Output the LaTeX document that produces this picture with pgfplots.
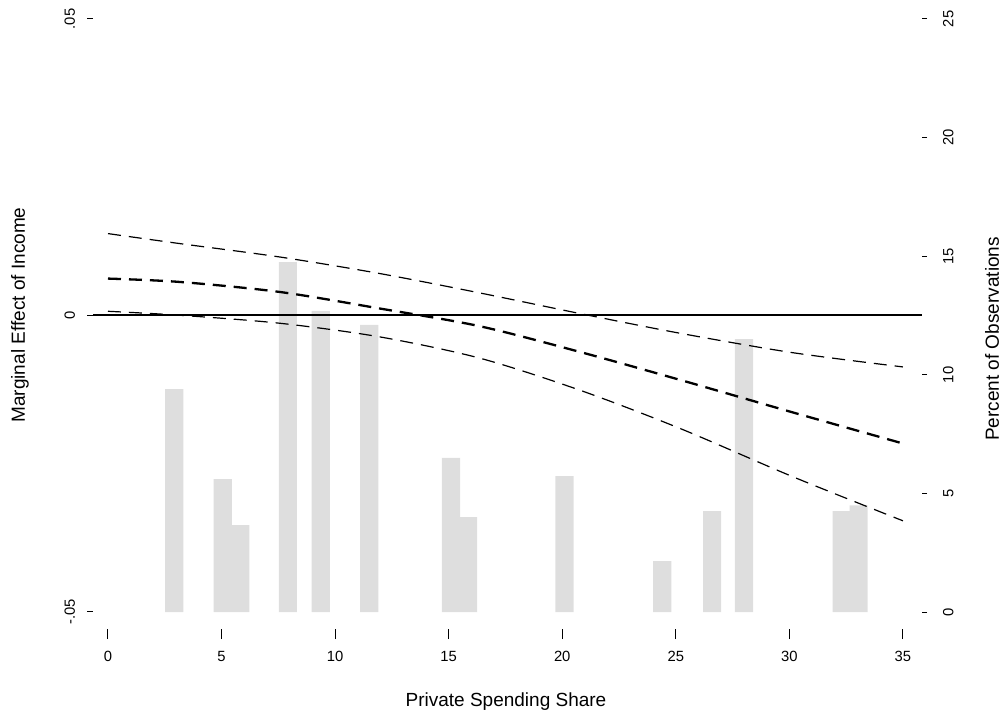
\documentclass[border=0pt]{standalone}
\usepackage{pgfplots}
\pgfplotsset{compat=1.18}
\usepackage{fontspec}
\setmainfont{Liberation Sans}
\definecolor{bargray}{RGB}{222,222,222}
\pgfplotstableread{
x h
2.92 9.4
5.05 5.6
5.83 3.66
7.92 14.75
9.37 12.7
11.5 12.1
15.1 6.5
15.85 4.0
20.1 5.73
24.4 2.15
26.6 4.25
28.0 11.5
32.3 4.25
33.05 4.5
}\bars
\begin{document}
\begin{tikzpicture}
\useasboundingbox (0,0) rectangle (502.5pt,359.5pt);
\pgfplotsset{
  common/.style={
    scale only axis, width=414.5pt, height=305pt,
    at={(46.5pt,45pt)}, anchor=south west,
    xmin=-0.66, xmax=35.84,
    clip=false,
    axis line style={draw=none},
    tick align=outside,
    scaled ticks=false,
    tick style={black, line width=0.5pt},
    ticklabel style={font=\fontsize{7.4}{9}\selectfont},
  }
}
% right axis with histogram
\begin{axis}[common,
  hide x axis,
  axis y line*=right,
  ymin=-0.7167, ymax=25,
  major tick length=2.5pt,
  ytick={0,5,10,15,20,25},
  yticklabels={0,5,10,15,20,25},
  yticklabel style={rotate=90, anchor=north},
  yticklabel shift=4.5pt,
]
\addplot[ybar, bar width=0.8, bar shift=0pt, fill=bargray, draw=none] table[x=x,y=h] {\bars};
\end{axis}
% x axis ticks
\begin{axis}[common,
  hide y axis,
  axis x line*=bottom,
  ymin=-0.05295, ymax=0.05,
  major tick length=5pt,
  xtick={0,5,10,15,20,25,30,35},
  xticklabels={0,5,10,15,20,25,30,35},
  xticklabel shift=2.5pt,
]
\end{axis}
% left axis with lines
\begin{axis}[common,
  hide x axis,
  axis y line*=left,
  ymin=-0.05295, ymax=0.05,
  major tick length=3pt,
  ytick={-0.05,0,0.05},
  yticklabels={-.05,0,.05},
  yticklabel style={rotate=90, anchor=south},
  yticklabel shift=2.5pt,
]
\addplot[black, line width=1.1pt] coordinates {(-0.66,0) (35.84,0)};
\addplot[black, line width=0.6pt, dash pattern=on 6.5pt off 4pt, smooth, tension=0.5] coordinates {
(0,0.01378) (3.17,0.01209) (7.57,0.00983) (11.98,0.00703) (16.38,0.00376) (20.78,0.00029) (25.19,-0.00304) (30.12,-0.0063) (35,-0.00872)};
\addplot[black, line width=1.15pt, dash pattern=on 6.5pt off 4pt, smooth, tension=0.5] coordinates {
(0,0.00619) (3.17,0.00562) (7.57,0.00393) (11.98,0.00113) (16.38,-0.00186) (20.78,-0.00619) (25.19,-0.01091) (30.12,-0.01636) (35,-0.02164)};
\addplot[black, line width=0.6pt, dash pattern=on 6.5pt off 4pt, smooth, tension=0.5] coordinates {
(0,0.00067) (3.17,0.0) (7.57,-0.00135) (11.98,-0.00366) (16.38,-0.00725) (20.78,-0.01265) (25.19,-0.01911) (30.12,-0.0272) (35,-0.03469)};
\end{axis}
\node[font=\fontsize{9.5}{11}\selectfont] at (253pt,8.5pt) {Private Spending Share};
\node[font=\fontsize{9.5}{11}\selectfont, rotate=90] at (10pt,202pt) {Marginal Effect of Income};
\node[font=\fontsize{9.5}{11}\selectfont, rotate=90] at (496pt,190pt) {Percent of Observations};
\end{tikzpicture}
\end{document}
